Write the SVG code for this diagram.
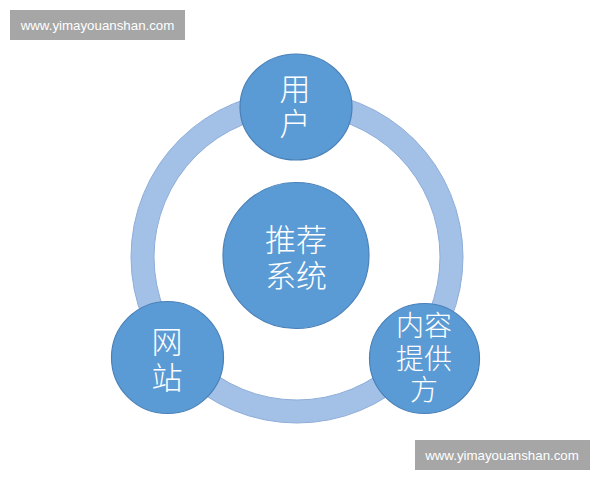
<svg xmlns="http://www.w3.org/2000/svg" width="600" height="480" viewBox="0 0 600 480">
<style>
.node{fill:#5b9bd5;stroke:#4a80b8;stroke-width:1.2}
.lbl{font-family:"Liberation Sans","Noto Sans CJK SC",sans-serif;fill:#ffffff;text-anchor:middle;font-weight:300}
.wm{fill:#a6a6a6}
.wmt{font-family:"Liberation Sans",Arial,sans-serif;font-size:13.3px;fill:#ffffff;text-anchor:middle}
</style>
<rect width="600" height="480" fill="#ffffff"/>
<g id="ring">
<circle cx="297" cy="257" r="154.5" fill="none" stroke="#a3c0e7" stroke-width="23"/>
<circle cx="297" cy="257" r="166" fill="none" stroke="#8eadd9" stroke-width="1"/>
<circle cx="297" cy="257" r="143" fill="none" stroke="#8eadd9" stroke-width="1"/>
</g>
<g id="connectors"></g>
<g id="user">
<ellipse class="node" cx="296" cy="107" rx="56" ry="53"/>
<text class="lbl" font-size="31" x="295" y="100">用</text>
<text class="lbl" font-size="31" x="295" y="135">户</text>
</g>
<g id="center">
<circle class="node" cx="296" cy="255.5" r="73"/>
<text class="lbl" font-size="31" x="296" y="251">推荐</text>
<text class="lbl" font-size="31" x="296" y="287">系统</text>
</g>
<g id="website">
<circle class="node" cx="167.5" cy="357.5" r="56"/>
<text class="lbl" font-size="31" x="167" y="353">网</text>
<text class="lbl" font-size="31" x="167" y="389">站</text>
</g>
<g id="provider">
<circle class="node" cx="424.5" cy="358.5" r="55"/>
<text class="lbl" font-size="28" x="424" y="336">内容</text>
<text class="lbl" font-size="28" x="424" y="369">提供</text>
<text class="lbl" font-size="28" x="424" y="400">方</text>
</g>
<g id="watermark-top">
<rect class="wm" x="10" y="10" width="175" height="30"/>
<text class="wmt" x="97.5" y="30">www.yimayouanshan.com</text>
</g>
<g id="watermark-bottom">
<rect class="wm" x="415" y="440" width="175" height="30"/>
<text class="wmt" x="502" y="460">www.yimayouanshan.com</text>
</g>
</svg>
